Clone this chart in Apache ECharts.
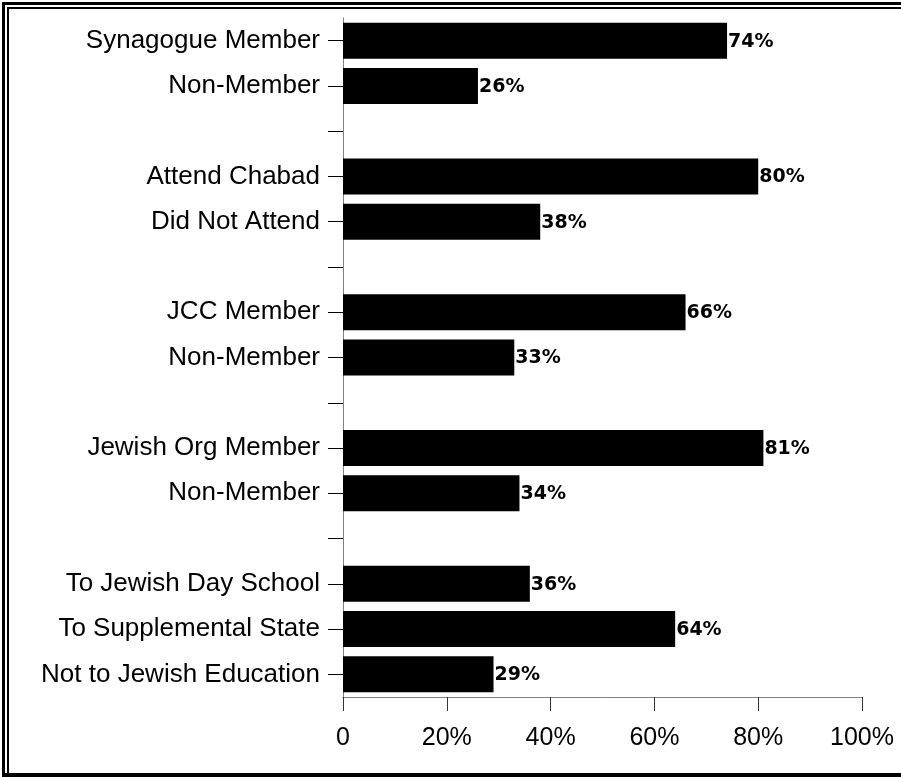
<!DOCTYPE html>
<html>
<head>
<meta charset="utf-8">
<script src="https://cdn.jsdelivr.net/npm/echarts@6/dist/echarts.min.js"></script>
<style>
html,body{margin:0;padding:0;background:#fff;overflow:hidden;}
#chart{width:901px;height:777px;}
</style>
</head>
<body>
<div id="chart"></div>
<script>
const categories = [
  'Synagogue Member', 'Non-Member', '',
  'Attend Chabad', 'Did Not Attend', '',
  'JCC Member', 'Non-Member', '',
  'Jewish Org Member', 'Non-Member', '',
  'To Jewish Day School', 'To Supplemental State', 'Not to Jewish Education'
];
const values = [74, 26, null, 80, 38, null, 66, 33, null, 81, 34, null, 36, 64, 29];
const xTicks = [0, 20, 40, 60, 80, 100];

const chart = echarts.init(document.getElementById('chart'));
chart.setOption({
  animation: false,
  backgroundColor: '#fff',
  grid: { left: 343, right: 39, top: 18, bottom: 80, containLabel: false },
  xAxis: {
    type: 'value', min: 0, max: 100, interval: 20,
    axisLine: { show: true, lineStyle: { color: '#808080', width: 1 } },
    axisTick: { show: true, length: 14, lineStyle: { color: '#333', width: 1 } },
    splitLine: { show: false },
    axisLabel: {
      margin: 29, color: '#000', fontSize: 25, fontFamily: 'Liberation Sans, Arial, sans-serif',
      formatter: v => (xTicks.indexOf(v) >= 0 ? (v === 0 ? '0' : v + '%') : '')
    }
  },
  yAxis: {
    type: 'category', inverse: true,
    data: categories.map((c, i) => String(i)),
    axisLine: { show: true, lineStyle: { color: '#808080', width: 1 } },
    axisTick: { show: true, alignWithLabel: true, interval: 0, length: 15, lineStyle: { color: '#000', width: 1 } },
    axisLabel: {
      interval: 0, margin: 23, color: '#000', fontSize: 26, fontFamily: 'Liberation Sans, Arial, sans-serif',
      formatter: (v, i) => categories[i]
    }
  },
  series: [{
    type: 'bar',
    data: values,
    barWidth: 36,
    itemStyle: { color: '#000' },
    label: {
      show: true, position: 'right', distance: 1, offset: [0, 1],
      color: '#000', fontSize: 19, fontWeight: 'bold', fontFamily: 'DejaVu Sans, Verdana, sans-serif',
      formatter: p => p.value + '%'
    }
  }],
  graphic: [
    { type: 'rect', shape: { x: 2, y: 2, width: 899, height: 3 }, style: { fill: '#000' } },
    { type: 'rect', shape: { x: 2, y: 2, width: 3, height: 775 }, style: { fill: '#000' } },
    { type: 'rect', shape: { x: 7, y: 7, width: 894, height: 2 }, style: { fill: '#000' } },
    { type: 'rect', shape: { x: 7, y: 7, width: 2, height: 770 }, style: { fill: '#000' } },
    { type: 'rect', shape: { x: 2, y: 773, width: 899, height: 4 }, style: { fill: '#000' } }
  ]
});
</script>
</body>
</html>
